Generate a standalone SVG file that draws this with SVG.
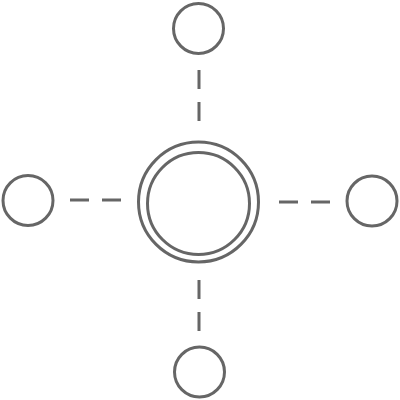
<svg xmlns="http://www.w3.org/2000/svg" width="400" height="400" viewBox="0 0 400 400">
<style>
.n{fill:#fff;stroke:#666;stroke-width:3}
.c{stroke:#666;stroke-width:3;stroke-dasharray:19 13;fill:none}
</style>
<rect width="400" height="400" fill="#fff"/>
<g id="connectors">
<line class="c" x1="199" y1="70" x2="199" y2="121"/>
<line class="c" x1="199" y1="280" x2="199" y2="331"/>
<line class="c" x1="70" y1="200" x2="121" y2="200"/>
<line class="c" x1="279" y1="202" x2="330" y2="202"/>
</g>
<g id="center">
<circle class="n" cx="198.5" cy="202" r="60"/>
<circle class="n" cx="198.5" cy="203.5" r="51"/>
</g>
<g id="top"><circle class="n" cx="198.5" cy="28.5" r="25"/></g>
<g id="bottom"><circle class="n" cx="199.5" cy="372" r="25"/></g>
<g id="left"><circle class="n" cx="28" cy="200.5" r="25"/></g>
<g id="right"><circle class="n" cx="372" cy="201" r="25"/></g>
</svg>
